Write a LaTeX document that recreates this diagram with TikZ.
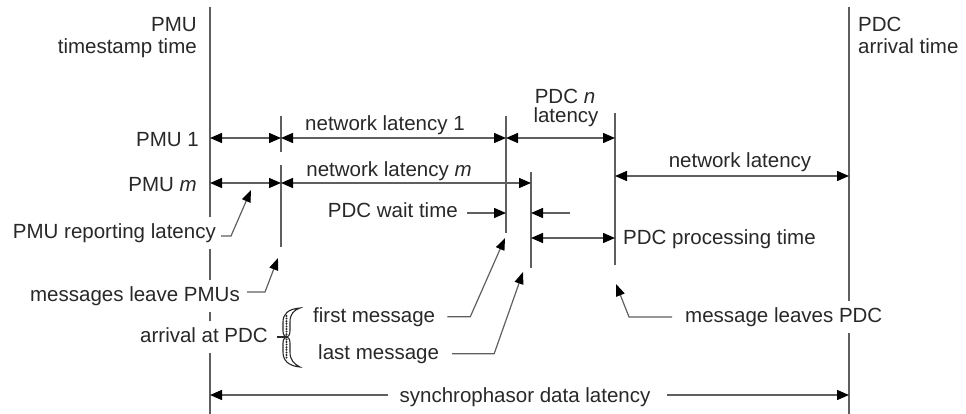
\documentclass[tikz,border=0pt]{standalone}
\usepackage{fontspec}
\setmainfont{Liberation Sans}
\usetikzlibrary{arrows.meta,calc}
\definecolor{rulegray}{RGB}{95,95,95}
\definecolor{ink}{RGB}{40,40,40}

\begin{document}
\begin{tikzpicture}[x=1pt,y=-1pt,
  lbl/.style={font=\fontsize{20.5}{24}\selectfont, text=ink, inner sep=0pt},
  cover/.style={lbl, fill=white, inner xsep=2pt, inner ysep=6pt, text height=15pt, text depth=5pt},
  timeline/.style={draw=rulegray, line width=1.6pt},
  marker/.style={draw=rulegray, line width=1.4pt},
  span/.style={draw=rulegray, line width=1.4pt,
    {Triangle[length=12pt,width=10pt,color=black]}-{Triangle[length=12pt,width=10pt,color=black]}},
  toward/.style={draw=rulegray, line width=1.4pt, -{Triangle[length=12pt,width=10pt,color=black]}},
  lead/.style={draw=rulegray, line width=1.2pt, -{Triangle[length=12pt,width=9pt,color=black]}},
]
\useasboundingbox (0,0) rectangle (966,414);

% event instants
\coordinate (Ltop) at (210,7);    \coordinate (Lbot) at (210,414);
\coordinate (Rtop) at (849,7);    \coordinate (Rbot) at (849,414);
\coordinate (t1a) at (281,116);   \coordinate (t1b) at (281,152);
\coordinate (t1c) at (281,165);   \coordinate (t1d) at (281,247);
\coordinate (t2a) at (506,116);   \coordinate (t2b) at (506,233);
\coordinate (t3a) at (531,172);   \coordinate (t3b) at (531,268);
\coordinate (t4a) at (615,113);   \coordinate (t4b) at (615,265);

% rows of the interval arrows
\coordinate (r1) at (0,138);
\coordinate (r2) at (0,183);
\coordinate (r3) at (0,176);
\coordinate (r4) at (0,213);
\coordinate (r5) at (0,238);
\coordinate (r6) at (0,395);

% timelines and instant markers
\draw[timeline] (Ltop) -- (Lbot);
\draw[timeline] (Rtop) -- (Rbot);
\draw[marker] (t1a) -- (t1b);
\draw[marker] (t1c) -- (t1d);
\draw[marker] (t2a) -- (t2b);
\draw[marker] (t3a) -- (t3b);
\draw[marker] (t4a) -- (t4b);

% header labels
\node[lbl, anchor=base east] (pmuA) at (197,32) {PMU};
\node[lbl, anchor=base east] (pmuB) at (197,54) {timestamp time};
\node[lbl, anchor=base west] (pdcA) at (858,32) {PDC};
\node[lbl, anchor=base west] (pdcB) at (858,54) {arrival time};

% row labels
\node[lbl, anchor=base east] (pmu1) at (199,147) {PMU 1};
\node[lbl, anchor=base east] (pmum) at (197,192) {PMU \textit{m}};

% interval labels
\node[lbl, anchor=base] (net1) at (385,131) {network latency 1};
\node[lbl, anchor=base] (netm) at (389,177) {network latency \textit{m}};
\node[lbl, anchor=base] (pdcnA) at (565,104) {PDC \textit{n}};
\node[lbl, anchor=base] (pdcnB) at (566,123) {latency};
\node[lbl, anchor=base] (netout) at (740,168) {network latency};
\node[lbl, anchor=base east] (wait) at (458,218) {PDC wait time};
\node[lbl, anchor=base west] (proc) at (623,244) {PDC processing time};
\node[lbl, anchor=base] (sync) at (525,402) {synchrophasor data latency};

% labels crossing the timelines
\node[cover, anchor=base east] (rep) at (218,238) {PMU reporting latency};
\node[cover, anchor=base east] (leave) at (242,301) {messages leave PMUs};
\node[cover, anchor=base east] (arrive) at (270,342) {arrival at PDC};
\node[cover, anchor=base west] (lpdc) at (683,322) {message leaves PDC};
\node[lbl, anchor=base west] (first) at (313,322) {first message};
\node[lbl, anchor=base west] (last) at (318,359) {last message};

% interval arrows
\draw[span] (Ltop |- r1) -- (t1a |- r1);
\draw[span] (t1a |- r1) -- (t2a |- r1);
\draw[span] (t2a |- r1) -- (t4a |- r1);
\draw[span] (Ltop |- r2) -- (t1a |- r2);
\draw[span] (t1a |- r2) -- (t3a |- r2);
\draw[span] (t4a |- r3) -- (Rtop |- r3);
\draw[toward] ($(wait.east |- r4)+(9,0)$) -- (t2a |- r4);
\coordinate (waitR) at (570,213);
\draw[toward] (waitR) -- (t3a |- r4);
\draw[span] (t3a |- r5) -- (t4a |- r5);
\draw[toward] ($(sync.west |- r6)+(-11,0)$) -- (Ltop |- r6);
\draw[toward] ($(sync.east |- r6)+(16,0)$) -- (Rtop |- r6);

% leader arrows from the captions
\coordinate (tipRep) at (251,190);
\coordinate (tipLeave) at (278,258);
\coordinate (tipFirst) at (505,238);
\coordinate (tipLast) at (523,272);
\coordinate (tipPDC) at (616,284);
\draw[lead] ([xshift=3pt,yshift=-3pt]rep.east) -- ++(10,0) -- (tipRep);
\draw[lead] ([xshift=5pt,yshift=4pt]leave.east) -- ++(18,0) -- (tipLeave);
\draw[lead] ([xshift=12pt]first.east) -- ++(23,0) -- (tipFirst);
\draw[lead] ([xshift=13pt]last.east) -- ++(42,0) -- (tipLast);
\draw[lead] ([xshift=-11pt]lpdc.west) -- ++(-43,0) -- (tipPDC);

% brace grouping the two arrivals
\filldraw[draw=ink, fill=white, line width=1.1pt]
  (300,308) .. controls (288,309) and (283,314) .. (283,322) -- (283,331)
  .. controls (283,335) and (285,337) .. (287,337)
  .. controls (285,337) and (283,339) .. (283,343) -- (283,352)
  .. controls (283,360) and (288,366) .. (300,367)
  .. controls (294,364) and (290,360) .. (290,352) -- (290,343)
  .. controls (290,339) and (288,337) .. (287,337)
  .. controls (288,337) and (290,335) .. (290,331) -- (290,322)
  .. controls (290,314) and (294,310) .. (300,308) -- cycle;
\draw[ink, line width=2.2pt, line cap=round, dash pattern=on 0pt off 2.6pt]
  (286.5,316) -- (286.5,358);
\draw[ink, line width=1.2pt] (287,337) -- (277,337);
\end{tikzpicture}
\end{document}
